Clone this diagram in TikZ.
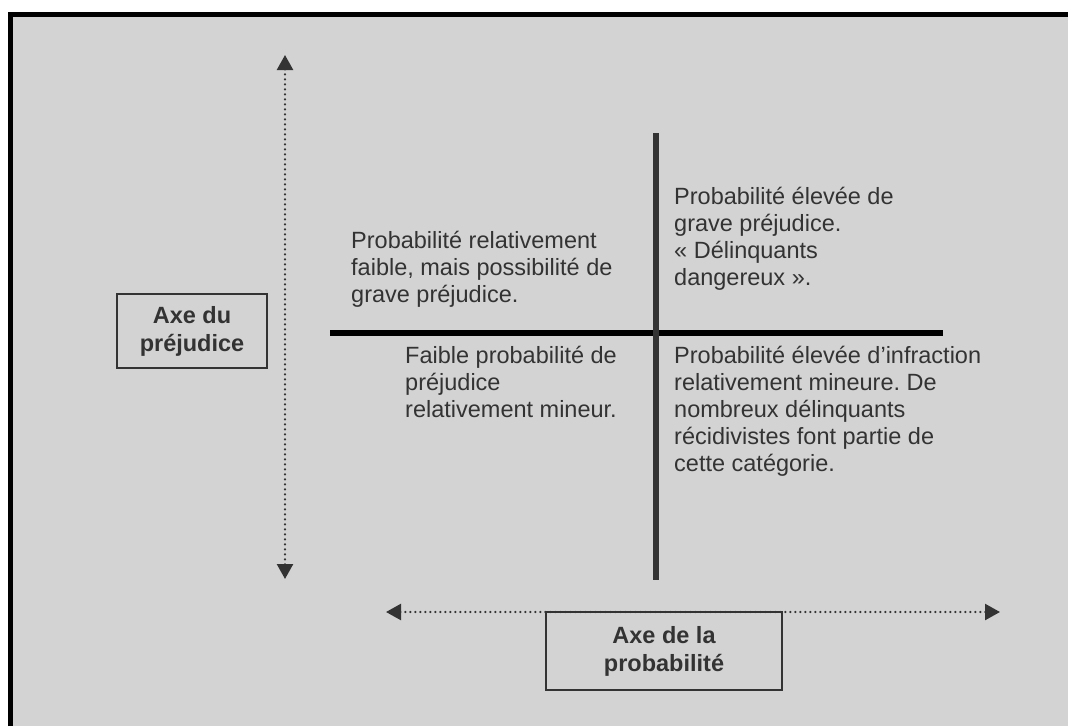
\documentclass[tikz,border=0pt]{standalone}
\usepackage{fontspec}
\setmainfont{Liberation Sans}
\usetikzlibrary{arrows.meta,positioning}
\definecolor{panelgray}{RGB}{211,211,211}
\definecolor{inkgray}{RGB}{51,51,51}
\frenchspacing

\begin{document}
\begin{tikzpicture}[
    x=1pt, y=-1pt,
    quad/.style={anchor=north west, inner sep=0pt, align=left, text=inkgray, font=\fontsize{23.5}{27}\selectfont},
    axisbox/.style={rectangle, draw=inkgray, line width=2pt, minimum width=150pt, minimum height=74pt, align=center, text=inkgray, font=\bfseries\fontsize{23.5}{28}\selectfont},
    axisarr/.style={{Triangle[length=15pt,width=16pt]}-{Triangle[length=15pt,width=16pt]}, inkgray, line width=2.4pt, line cap=round, dash pattern=on 0pt off 5pt},
    divider/.style={line width=6.5pt}
]
  \useasboundingbox (0,0) rectangle (1068,726);
  % panel and its frame
  \fill[panelgray] (10.5,14.5) rectangle (1068,726);
  \draw[black, line width=4.5pt] (10.5,726) |- (1068,14.5);

  % axes
  \coordinate (ptop) at (285,55);
  \coordinate (pbot) at (285,579);
  \coordinate (qleft) at (386,612);
  \coordinate (qright) at (1000,612);
  \draw[axisarr] (ptop) -- (pbot);
  \draw[axisarr] (qleft) -- (qright);

  \node[axisbox] (axeprej) at (192,331) {Axe du\\préjudice};
  \node[axisbox, minimum width=236pt, minimum height=78pt] (axeprob) at (664,651) {Axe de la\\probabilité};

  % quadrant dividers
  \coordinate (hleft) at (330,333);
  \coordinate (hright) at (943,333);
  \coordinate (vtop) at (656,133);
  \coordinate (vbot) at (656,580);
  \draw[divider, black] (hleft) -- (hright);
  \draw[divider, inkgray] (vtop) -- (vbot);

  % quadrants
  \node[quad] (faiblegrave) at (351,231) {Probabilité relativement\\faible, mais possibilité de\\grave préjudice.};
  \node[quad] (eleveegrave) at (674,187) {Probabilité élevée de\\grave préjudice.\\« Délinquants\\dangereux ».};
  \node[quad] (faiblemineur) at (405,346) {Faible probabilité de\\préjudice\\relativement mineur.};
  \node[quad] (eleveemineur) at (674,346) {Probabilité élevée d’infraction\\relativement mineure. De\\nombreux délinquants\\récidivistes font partie de\\cette catégorie.};
\end{tikzpicture}
\end{document}
